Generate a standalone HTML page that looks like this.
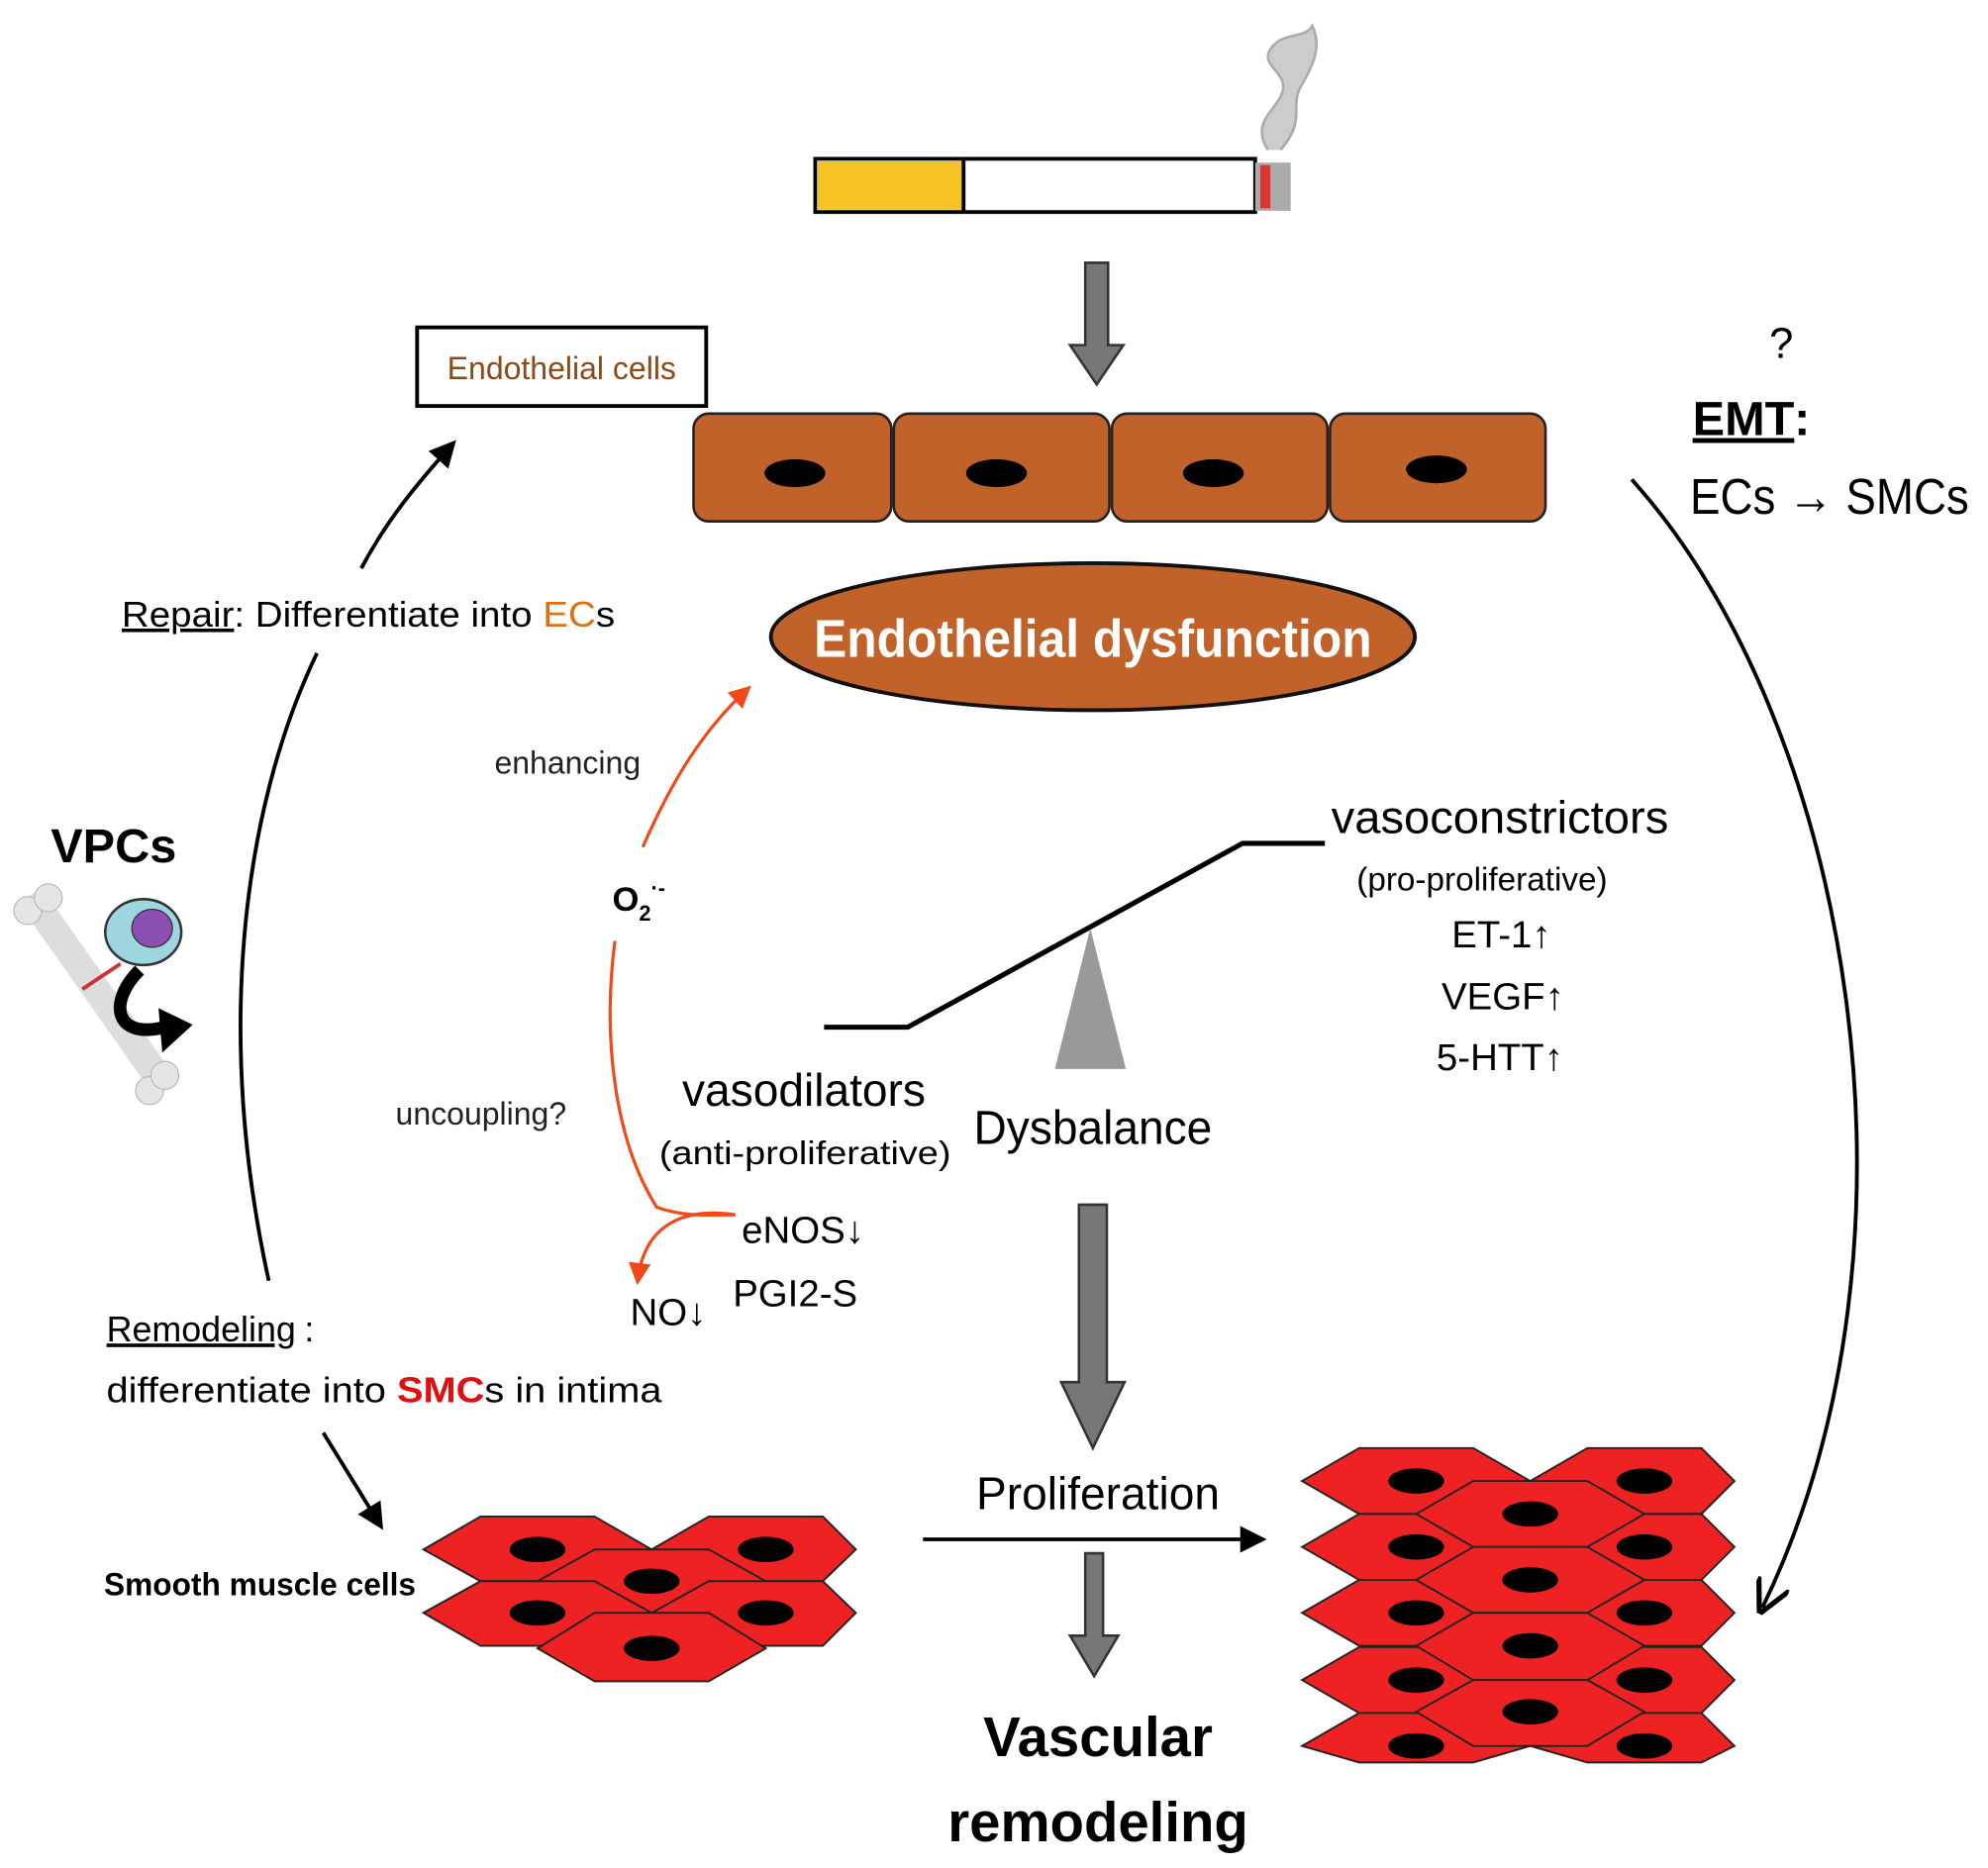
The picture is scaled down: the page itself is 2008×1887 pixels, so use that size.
<!DOCTYPE html>
<html><head><meta charset="utf-8"><style>
html,body{margin:0;padding:0;background:#fff}
svg{display:block}
text{font-family:"Liberation Sans",sans-serif}
</style></head><body>
<svg width="2008" height="1887" viewBox="0 0 1568 1473" xmlns="http://www.w3.org/2000/svg">
<defs>
<marker id="ab" viewBox="0 0 10 10" refX="8" refY="5" markerWidth="7" markerHeight="7" orient="auto"><path d="M0,0 L10,5 L0,10 z" fill="#000"/></marker>
<marker id="ao" viewBox="0 0 10 10" refX="8" refY="5" markerWidth="7" markerHeight="7" orient="auto"><path d="M0,0 L10,5 L0,10 z" fill="#f04a1a"/></marker>
<marker id="ac" viewBox="0 0 10 10" refX="8" refY="5" markerWidth="9" markerHeight="9" orient="auto"><path d="M0,0 L10,5 L0,10" fill="none" stroke="#000" stroke-width="1.5"/></marker>
</defs>
<path d="M1000,118 C985,95 1010,85 1012,70 C1014,55 990,50 1005,35 C1015,25 1030,30 1035,20 C1045,40 1030,60 1025,70 C1018,85 1030,95 1010,118" fill="#ccc" stroke="#aaa" stroke-width="2"/>
<rect x="643" y="125" width="347" height="42" fill="#fff" stroke="#000" stroke-width="3"/>
<rect x="645" y="127" width="115" height="38" fill="#f5c324"/>
<line x1="760" y1="125" x2="760" y2="167" stroke="#000" stroke-width="3"/>
<rect x="990" y="128" width="28" height="38" fill="#aaa"/>
<rect x="994" y="130" width="8" height="34" fill="#d33"/>
<path d="M856,207 h18 v65 h12 l-21,31 l-21,-31 h12 z" fill="#777" stroke="#333" stroke-width="2"/>
<rect x="329" y="258" width="228" height="62" fill="#fff" stroke="#000" stroke-width="3"/>
<text x="443" y="299" font-size="25" fill="#8b4a1a" text-anchor="middle">Endothelial cells</text>
<g fill="#c0622a" stroke="#222" stroke-width="2">
<rect x="547" y="326" width="156" height="85" rx="12"/>
<rect x="705" y="326" width="170" height="85" rx="12"/>
<rect x="877" y="326" width="170" height="85" rx="12"/>
<rect x="1049" y="326" width="170" height="85" rx="12"/>
</g>
<g fill="#000"><ellipse cx="627" cy="373" rx="24" ry="11"/><ellipse cx="786" cy="373" rx="24" ry="11"/><ellipse cx="957" cy="373" rx="24" ry="11"/><ellipse cx="1133" cy="370" rx="24" ry="11"/></g>
<ellipse cx="862" cy="502" rx="254" ry="58" fill="#c0622a" stroke="#111" stroke-width="3"/>
<text x="642" y="518" font-size="42" font-weight="bold" fill="#fff" textLength="440" lengthAdjust="spacingAndGlyphs">Endothelial dysfunction</text>
<text x="1405" y="282" font-size="34" text-anchor="middle">?</text>
<text x="1335" y="343" font-size="38" font-weight="bold" text-decoration="underline">EMT</text><text x="1415" y="343" font-size="38" font-weight="bold">:</text>
<text x="1333" y="405" font-size="40" textLength="220" lengthAdjust="spacingAndGlyphs">ECs → SMCs</text>
<path d="M1287,378 C1460,570 1530,980 1390,1268" fill="none" stroke="#000" stroke-width="3" marker-end="url(#ac)"/>
<path d="M212,1010 C170,820 190,640 250,515" fill="none" stroke="#000" stroke-width="3"/>
<path d="M285,448 C305,410 330,380 357,350" fill="none" stroke="#000" stroke-width="3" marker-end="url(#ab)"/>
<text x="96" y="494" font-size="28" textLength="389" lengthAdjust="spacingAndGlyphs"><tspan text-decoration="underline">Repair</tspan>: Differentiate into <tspan fill="#e07010">EC</tspan>s</text>
<text x="40" y="680" font-size="38" font-weight="bold">VPCs</text>
<g>
<path d="M30,715 L125,850" stroke="#ddd" stroke-width="22" stroke-linecap="round"/>
<circle cx="22" cy="718" r="11" fill="#e5e5e5" stroke="#bbb"/><circle cx="38" cy="708" r="11" fill="#e5e5e5" stroke="#bbb"/>
<circle cx="118" cy="860" r="11" fill="#e5e5e5" stroke="#bbb"/><circle cx="130" cy="848" r="11" fill="#e5e5e5" stroke="#bbb"/>
<line x1="65" y1="780" x2="95" y2="760" stroke="#c33" stroke-width="3"/>
<ellipse cx="113" cy="735" rx="30" ry="26" fill="#9dd6e0" stroke="#333" stroke-width="2"/>
<ellipse cx="120" cy="732" rx="16" ry="15" fill="#8a4fb0" stroke="#333"/>
<path d="M110,765 C85,790 90,820 130,810" fill="none" stroke="#000" stroke-width="10"/>
<path d="M125,795 L152,808 L128,830 z" fill="#000"/>
</g>
<text x="390" y="610" font-size="25" fill="#222">enhancing</text>
<text x="483" y="718" font-size="27" font-weight="bold">O<tspan font-size="17" dy="8">2</tspan><tspan font-size="17" dy="-20">·-</tspan></text>
<text x="312" y="887" font-size="25" fill="#222">uncoupling?</text>
<path d="M507,668 C530,615 555,575 590,543" fill="none" stroke="#f04a1a" stroke-width="2.5" marker-end="url(#ao)"/>
<path d="M485,742 C475,820 485,900 518,952 C540,960 560,958 580,958" fill="none" stroke="#f04a1a" stroke-width="2.5"/>
<path d="M580,958 C540,952 508,965 503,1010" fill="none" stroke="#f04a1a" stroke-width="2.5" marker-end="url(#ao)"/>
<polyline points="650,810 716,810 980,665 1045,665" fill="none" stroke="#000" stroke-width="4"/>
<path d="M860,732 L888,843 L832,843 z" fill="#999"/>
<text x="1050" y="657" font-size="36" textLength="266" lengthAdjust="spacingAndGlyphs">vasoconstrictors</text>
<text x="1070" y="702" font-size="26">(pro-proliferative)</text>
<text x="1145" y="747" font-size="30">ET-1<tspan font-weight="bold">↑</tspan></text>
<text x="1137" y="796" font-size="30">VEGF<tspan font-weight="bold">↑</tspan></text>
<text x="1133" y="844" font-size="30">5-HTT<tspan font-weight="bold">↑</tspan></text>
<text x="538" y="872" font-size="36">vasodilators</text>
<text x="520" y="918" font-size="26" textLength="230" lengthAdjust="spacingAndGlyphs">(anti-proliferative)</text>
<text x="768" y="902" font-size="38" textLength="188" lengthAdjust="spacingAndGlyphs">Dysbalance</text>
<text x="585" y="980" font-size="30">eNOS<tspan font-weight="bold">↓</tspan></text>
<text x="578" y="1030" font-size="30">PGI2-S</text>
<text x="497" y="1045" font-size="30">NO<tspan font-weight="bold">↓</tspan></text>
<path d="M851,950 h22 v140 h14 l-25,52 l-25,-52 h14 z" fill="#777" stroke="#333" stroke-width="2"/>
<text x="84" y="1058" font-size="28" text-decoration="underline">Remodeling</text><text x="240" y="1058" font-size="28">:</text>
<text x="84" y="1106" font-size="28" textLength="438" lengthAdjust="spacingAndGlyphs">differentiate into <tspan fill="#e01010" font-weight="bold">SMC</tspan>s in intima</text>
<path d="M255,1130 L300,1203" stroke="#000" stroke-width="3" marker-end="url(#ab)"/>
<text x="82" y="1258" font-size="25" font-weight="bold" textLength="246" lengthAdjust="spacingAndGlyphs">Smooth muscle cells</text>
<g fill="#ee2222" stroke="#222" stroke-width="1.5">
<polygon points="334,1222 379,1196 469,1196 514,1222 469,1247 379,1247"/>
<polygon points="514,1222 559,1196 649,1196 675,1222 649,1247 559,1247"/>
<polygon points="424,1247 469,1222 559,1222 604,1247 559,1272 469,1272"/>
<polygon points="334,1272 379,1247 469,1247 514,1272 469,1298 379,1298"/>
<polygon points="514,1272 559,1247 649,1247 675,1272 649,1298 559,1298"/>
<polygon points="424,1300 469,1272 559,1272 604,1300 559,1326 469,1326"/>
</g>
<g fill="#000"><ellipse cx="424" cy="1222" rx="22" ry="10"/><ellipse cx="604" cy="1222" rx="22" ry="10"/><ellipse cx="514" cy="1247" rx="22" ry="10"/><ellipse cx="424" cy="1272" rx="22" ry="10"/><ellipse cx="604" cy="1272" rx="22" ry="10"/><ellipse cx="514" cy="1300" rx="22" ry="10"/></g>
<g fill="#ee2222" stroke="#222" stroke-width="1.5">
<polygon points="1027,1168 1072,1142 1162,1142 1207,1168 1162,1194 1072,1194"/>
<polygon points="1207,1168 1252,1142 1342,1142 1368,1168 1342,1194 1252,1194"/>
<polygon points="1027,1220 1072,1194 1162,1194 1207,1220 1162,1246 1072,1246"/>
<polygon points="1207,1220 1252,1194 1342,1194 1368,1220 1342,1246 1252,1246"/>
<polygon points="1027,1272 1072,1246 1162,1246 1207,1272 1162,1298 1072,1298"/>
<polygon points="1207,1272 1252,1246 1342,1246 1368,1272 1342,1298 1252,1298"/>
<polygon points="1027,1325 1072,1299 1162,1299 1207,1325 1162,1351 1072,1351"/>
<polygon points="1207,1325 1252,1299 1342,1299 1368,1325 1342,1351 1252,1351"/>
<polygon points="1027,1377 1072,1351 1162,1351 1207,1377 1162,1390 1072,1390"/>
<polygon points="1207,1377 1252,1351 1342,1351 1368,1377 1342,1390 1252,1390"/>
<polygon points="1117,1194 1162,1168 1252,1168 1297,1194 1252,1220 1162,1220"/>
<polygon points="1117,1246 1162,1220 1252,1220 1297,1246 1252,1272 1162,1272"/>
<polygon points="1117,1298 1162,1272 1252,1272 1297,1298 1252,1325 1162,1325"/>
<polygon points="1117,1350 1162,1325 1252,1325 1297,1350 1252,1377 1162,1377"/>
</g>
<g fill="#000">
<ellipse cx="1117" cy="1168" rx="22" ry="10"/><ellipse cx="1297" cy="1168" rx="22" ry="10"/>
<ellipse cx="1117" cy="1220" rx="22" ry="10"/><ellipse cx="1297" cy="1220" rx="22" ry="10"/>
<ellipse cx="1117" cy="1272" rx="22" ry="10"/><ellipse cx="1297" cy="1272" rx="22" ry="10"/>
<ellipse cx="1117" cy="1325" rx="22" ry="10"/><ellipse cx="1297" cy="1325" rx="22" ry="10"/>
<ellipse cx="1117" cy="1377" rx="22" ry="10"/><ellipse cx="1297" cy="1377" rx="22" ry="10"/>
<ellipse cx="1207" cy="1194" rx="22" ry="10"/><ellipse cx="1207" cy="1246" rx="22" ry="10"/><ellipse cx="1207" cy="1298" rx="22" ry="10"/><ellipse cx="1207" cy="1350" rx="22" ry="10"/>
</g>
<text x="866" y="1190" font-size="36" text-anchor="middle">Proliferation</text>
<path d="M728,1214 L995,1214" stroke="#000" stroke-width="3" marker-end="url(#ab)"/>
<path d="M856,1225 h14 v65 h12 l-19,32 l-19,-32 h12 z" fill="#777" stroke="#333" stroke-width="2"/>
<text x="866" y="1385" font-size="44" font-weight="bold" text-anchor="middle">Vascular</text>
<text x="866" y="1452" font-size="44" font-weight="bold" text-anchor="middle">remodeling</text>
</svg>
</body></html>
